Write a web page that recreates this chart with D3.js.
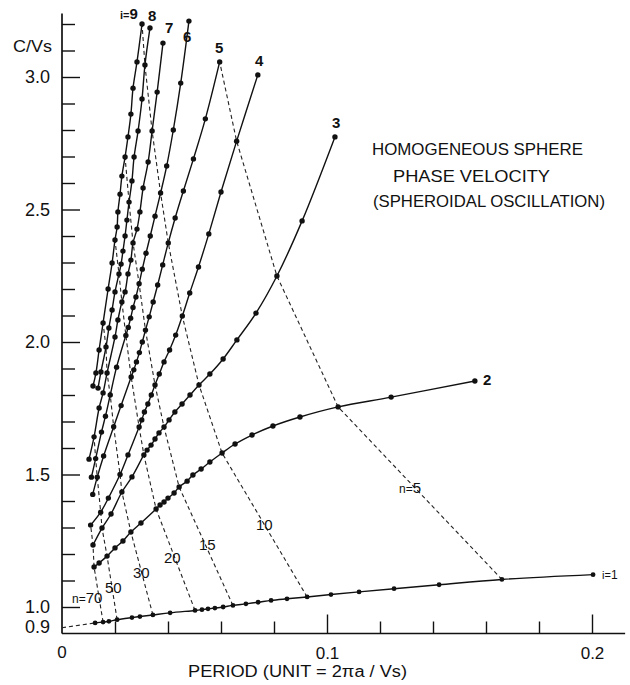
<!DOCTYPE html>
<html><head><meta charset="utf-8">
<script src="https://cdn.jsdelivr.net/npm/d3@7"></script>
<style>
body{margin:0;background:#fff}
svg{display:block;background:#fff}
text{font-family:"Liberation Sans",Arial,sans-serif;fill:#111}
</style>
</head><body>
<svg id="chart" width="630" height="685"></svg>
<script>
// ---------- data (period in units of 2πa/Vs, phase velocity C/Vs) ----------
const p1 = [0.0125,0.0155,0.0177,0.0208,0.0264,0.0294,0.0343,0.0408,0.0502,0.0528,0.0551,0.0577,0.0608,0.0645,0.0694,0.0740,0.0789,0.0849,0.0925,0.1015,0.1121,0.1253,0.1423,0.1660,0.2004];
const v1 = [0.940,0.943,0.946,0.952,0.960,0.964,0.970,0.978,0.987,0.990,0.993,0.996,1.000,1.006,1.012,1.018,1.025,1.031,1.038,1.047,1.057,1.069,1.084,1.104,1.122];
const p2 = [0.1558,0.1242,0.1042,0.0898,0.0796,0.0717,0.0653,0.0604,0.0558,0.0525,0.0494,0.0472,0.0442,0.0423,0.0400,0.0385,0.0370,0.0355,0.0298,0.0260,0.0230,0.0200,0.0170,0.0140,0.0121];
const v2 = [1.853,1.792,1.755,1.717,1.683,1.649,1.615,1.581,1.547,1.521,1.498,1.475,1.453,1.430,1.411,1.396,1.385,1.370,1.317,1.283,1.249,1.223,1.192,1.166,1.151];
const p3 = [0.1030,0.0906,0.0811,0.0732,0.0660,0.0608,0.0558,0.0517,0.0483,0.0453,0.0426,0.0404,0.0385,0.0366,0.0351,0.0336,0.0321,0.0309,0.0264,0.0226,0.0185,0.0151,0.0117];
const v3 = [2.774,2.457,2.249,2.109,2.008,1.936,1.879,1.838,1.800,1.766,1.736,1.706,1.679,1.657,1.634,1.611,1.592,1.574,1.491,1.434,1.351,1.298,1.234];
const p4 = [0.0739,0.0659,0.0600,0.0554,0.0515,0.0482,0.0454,0.0429,0.0406,0.0385,0.0367,0.0351,0.0337,0.0324,0.0311,0.0301,0.0291,0.0249,0.0219,0.0175,0.0146,0.0108];
const v4 = [3.008,2.758,2.566,2.408,2.283,2.185,2.098,2.026,1.970,1.925,1.879,1.838,1.800,1.766,1.736,1.706,1.679,1.574,1.500,1.411,1.358,1.309];
const p5 = [0.0595,0.0541,0.0496,0.0458,0.0427,0.0401,0.0380,0.0361,0.0344,0.0329,0.0315,0.0303,0.0292,0.0281,0.0271,0.0261,0.0223,0.0195,0.0157,0.0133,0.0116];
const v5 = [3.057,2.842,2.691,2.570,2.468,2.374,2.291,2.215,2.151,2.095,2.045,2.000,1.960,1.925,1.895,1.868,1.760,1.680,1.570,1.490,1.425];
const p6 = [0.0479,0.0448,0.0420,0.0395,0.0372,0.0351,0.0333,0.0317,0.0303,0.0291,0.0279,0.0268,0.0259,0.0250,0.0241,0.0206,0.0182,0.0164,0.0149,0.0127,0.0111];
const v6 = [3.211,2.977,2.800,2.664,2.562,2.475,2.400,2.335,2.275,2.220,2.170,2.130,2.090,2.055,2.025,1.905,1.800,1.720,1.660,1.560,1.490];
const p7 = [0.0381,0.0359,0.0340,0.0325,0.0306,0.0294,0.0283,0.0268,0.0260,0.0249,0.0238,0.0226,0.0211,0.0200,0.0170,0.0155,0.0140,0.0121,0.0102];
const v7 = [3.128,2.943,2.796,2.679,2.581,2.491,2.426,2.374,2.309,2.257,2.189,2.151,2.083,2.019,1.883,1.808,1.751,1.642,1.558];
const p8 = [0.0332,0.0313,0.0302,0.0287,0.0272,0.0264,0.0253,0.0245,0.0238,0.0230,0.0223,0.0215,0.0200,0.0189,0.0177,0.0166,0.0147,0.0136];
const v8 = [3.185,3.045,2.917,2.796,2.698,2.608,2.528,2.460,2.400,2.343,2.294,2.257,2.189,2.121,2.053,1.981,1.887,1.826];
const p9 = [0.0302,0.0283,0.0268,0.0260,0.0249,0.0238,0.0226,0.0219,0.0211,0.0208,0.0200,0.0189,0.0174,0.0155,0.0140,0.0128,0.0117];
const v9 = [3.200,3.057,2.958,2.860,2.774,2.698,2.626,2.558,2.491,2.434,2.385,2.298,2.200,2.072,1.970,1.883,1.834];

// constant-n (dashed) lines
const n5P  = [0.1660,0.1042,0.0811,0.0659,0.0595];
const n5V  = [1.104,1.755,2.249,2.758,3.057];
const n10P = [0.0925,0.0604,0.0517,0.0454,0.0401,0.0372,0.0340,0.0313,0.0302];
const n10V = [1.038,1.581,1.838,2.098,2.374,2.562,2.796,3.045,3.200];
const n15P = [0.0645,0.0442,0.0385,0.0351,0.0315,0.0291,0.0268,0.0253,0.0238];
const n15V = [1.006,1.453,1.679,1.838,2.045,2.220,2.374,2.528,2.698];
const n20P = [0.0502,0.0355,0.0309,0.0291,0.0261,0.0241,0.0226,0.0215,0.0200];
const n20V = [0.987,1.370,1.574,1.679,1.868,2.025,2.151,2.257,2.385];
const n30P = [0.0343,0.0260,0.0226,0.0219,0.0195,0.0182,0.0170,0.0166,0.0155];
const n30V = [0.970,1.283,1.434,1.500,1.680,1.800,1.883,1.981,2.072];
const n50P = [0.0208,0.0170,0.0151,0.0146,0.0133,0.0127,0.0121];
const n50V = [0.952,1.192,1.298,1.358,1.490,1.560,1.642];
const n70P = [0.0155,0.0121,0.0117,0.0108];
const n70V = [0.943,1.151,1.234,1.309];
const limitP = [0.0, 0.0125];   // i=1 extrapolated to zero period
const limitV = [0.922, 0.940];

// axis ticks
const yMajorTicks = [1.0,1.5,2.0,2.5,3.0];
const yMinorTicks = [1.1,1.2,1.3,1.4,1.6,1.7,1.8,1.9,2.1,2.2,2.3,2.4,2.6,2.7,2.8,2.9,3.1,3.2];
const xMajorTicks = [0.1,0.2];
const xMinorTicks = [0.02,0.04,0.06,0.08,0.12,0.14,0.16,0.18];
const xZeroLabel = ["0"];
const yBottomLabel = ["0.9"];
const curveNames = ["9","8","7","6","5","4","3","2","1"];
const nNames = ["n=5","10","15","20","30","50","n=70"];
const titleLines = ["HOMOGENEOUS  SPHERE","PHASE  VELOCITY","(SPHEROIDAL  OSCILLATION)"];

// ---------- drawing ----------
const zip = (a,b) => a.map((d,i)=>[d,b[i]]);
const svg = d3.select("#chart");
const x = d3.scaleLinear().domain([0,0.2]).range([62,592]);
const y = d3.scaleLinear().domain([1.0,3.0]).range([607,77]);

// y axis
const gy = svg.append("g").attr("transform","translate(62,0)");
gy.append("g").call(d3.axisLeft(y).tickValues(yMinorTicks).tickSize(-13).tickFormat(""))
  .call(g=>g.select(".domain").remove());
gy.append("g").call(d3.axisLeft(y).tickValues(yMajorTicks).tickSize(-18).tickPadding(12).tickFormat(d3.format(".1f")))
  .call(g=>g.select(".domain").remove());
gy.selectAll("line").attr("stroke","#111").attr("stroke-width",1.4);
gy.selectAll("text").attr("font-size",18).attr("font-family","Liberation Sans, Arial, sans-serif").attr("fill","#111");
gy.append("line").attr("x1",0).attr("x2",0).attr("y1",y(0.9)).attr("y2",y(3.24)).attr("stroke","#111").attr("stroke-width",1.7);
svg.append("text").attr("x",50).attr("y",y(0.9)-0.5).attr("text-anchor","end").attr("font-size",18).text(yBottomLabel[0]);
svg.append("text").attr("x",13).attr("y",52).attr("font-size",17).attr("textLength",39).attr("lengthAdjust","spacingAndGlyphs").text("C/Vs");

// x axis
const gx = svg.append("g").attr("transform",`translate(0,${y(0.9)})`);
gx.append("g").call(d3.axisBottom(x).tickValues(xMinorTicks).tickSize(-12).tickFormat(""))
  .call(g=>g.select(".domain").remove());
gx.append("g").call(d3.axisBottom(x).tickValues(xMajorTicks).tickSize(-19).tickPadding(13).tickFormat(d3.format(".1f")))
  .call(g=>g.select(".domain").remove());
gx.selectAll("line").attr("stroke","#111").attr("stroke-width",1.4);
gx.selectAll("text").attr("font-size",17).attr("font-family","Liberation Sans, Arial, sans-serif").attr("fill","#111");
gx.append("line").attr("x1",x(0)).attr("x2",x(0.2125)).attr("y1",0).attr("y2",0).attr("stroke","#111").attr("stroke-width",1.7);
svg.append("text").attr("x",x(0)).attr("y",658).attr("text-anchor","middle").attr("font-size",17).text(xZeroLabel[0]);
svg.append("text").attr("x",188).attr("y",677).attr("font-size",16).attr("textLength",219).attr("lengthAdjust","spacingAndGlyphs").text("PERIOD  (UNIT = 2πa / Vs)");

// dashed constant-n lines
const lin = d3.line().x(d=>x(d[0])).y(d=>y(d[1]));
const dashed = [zip(n5P,n5V),zip(n10P,n10V),zip(n15P,n15V),zip(n20P,n20V),zip(n30P,n30V),zip(n50P,n50V),zip(n70P,n70V),zip(limitP,limitV)];
svg.append("g").selectAll("path").data(dashed).join("path")
  .attr("d",lin).attr("fill","none").attr("stroke","#222").attr("stroke-width",1.1).attr("stroke-dasharray","4,3");

// solid curves with dots
const curves = [zip(p9,v9),zip(p8,v8),zip(p7,v7),zip(p6,v6),zip(p5,v5),zip(p4,v4),zip(p3,v3),zip(p2,v2),zip(p1,v1)];
const smooth = d3.line().x(d=>x(d[0])).y(d=>y(d[1])).curve(d3.curveCatmullRom.alpha(0.5));
const gc = svg.append("g");
curves.forEach((c,k)=>{
  const s = c.slice().sort((a,b)=>a[0]-b[0]);
  gc.append("path").attr("d",smooth(s)).attr("fill","none").attr("stroke","#111").attr("stroke-width",1.4);
  gc.append("g").selectAll("circle").data(c).join("circle")
    .attr("cx",d=>x(d[0])).attr("cy",d=>y(d[1])).attr("r",k===8?2.4:2.7).attr("fill","#111");
});

// curve labels
const lab = svg.append("g").attr("font-weight","bold");
const iLab = lab.append("text").attr("x",120).attr("y",19);
iLab.append("tspan").attr("font-size",11).text("i=");
iLab.append("tspan").attr("font-size",15).text(curveNames[0]);
const cpos = [[148,21],[165,33],[183,42],[215,53],[255,66],[332,128],[483,385]];
cpos.forEach((pp,k)=>lab.append("text").attr("x",pp[0]).attr("y",pp[1]).attr("font-size",15).text(curveNames[k+1]));
const i1 = lab.append("text").attr("x",602).attr("y",579).attr("font-weight","normal");
i1.append("tspan").attr("font-size",11).text("i=");
i1.append("tspan").attr("font-size",12).text(curveNames[8]);

// n labels
const npos = [[399,493],[256,530],[199,550],[164,563],[133,578],[105,593],[72,603]];
nNames.forEach((t,k)=>{
  const tx = svg.append("text").attr("x",npos[k][0]).attr("y",npos[k][1]).attr("font-size",15);
  if(t.startsWith("n=")){tx.append("tspan").attr("font-size",12).text("n=");tx.append("tspan").text(t.slice(2));}
  else tx.text(t);
});

// title
const tpos = [[372,155,211],[393,182,157],[373,207,232]];
titleLines.forEach((t,k)=>svg.append("text").attr("x",tpos[k][0]).attr("y",tpos[k][1]).attr("font-size",17)
  .attr("textLength",tpos[k][2]).attr("lengthAdjust","spacingAndGlyphs").text(t));
</script>
</body></html>
